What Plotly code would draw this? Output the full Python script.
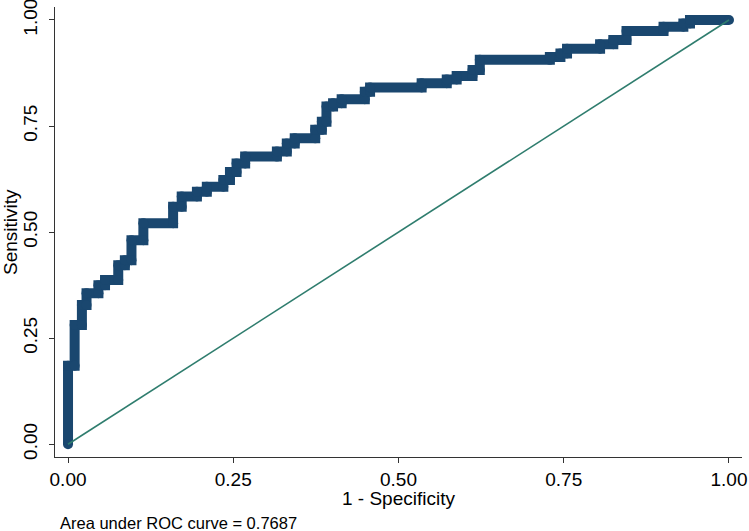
import plotly.graph_objects as go

# ROC step vertices
fpr = [0.000, 0.000, 0.010, 0.010, 0.021, 0.021, 0.028, 0.028, 0.046, 0.046,
       0.056, 0.056, 0.076, 0.076, 0.086, 0.086, 0.096, 0.096, 0.114, 0.114,
       0.159, 0.159, 0.172, 0.172, 0.195, 0.195, 0.210, 0.210, 0.235, 0.235,
       0.245, 0.245, 0.255, 0.255, 0.268, 0.268, 0.316, 0.316, 0.331, 0.331,
       0.343, 0.343, 0.374, 0.374, 0.384, 0.384, 0.391, 0.391, 0.401, 0.401,
       0.414, 0.414, 0.449, 0.449, 0.457, 0.457, 0.535, 0.535, 0.573, 0.573,
       0.588, 0.588, 0.612, 0.612, 0.623, 0.623, 0.729, 0.729, 0.745, 0.745,
       0.755, 0.755, 0.805, 0.805, 0.825, 0.825, 0.845, 0.845, 0.901, 0.901,
       0.931, 0.931, 0.941, 0.941, 1.000]
tpr = [0.000, 0.185, 0.185, 0.281, 0.281, 0.328, 0.328, 0.356, 0.356, 0.375,
       0.375, 0.387, 0.387, 0.422, 0.422, 0.434, 0.434, 0.481, 0.481, 0.521,
       0.521, 0.560, 0.560, 0.584, 0.584, 0.595, 0.595, 0.607, 0.607, 0.623,
       0.623, 0.642, 0.642, 0.662, 0.662, 0.678, 0.678, 0.690, 0.690, 0.709,
       0.709, 0.721, 0.721, 0.741, 0.741, 0.760, 0.760, 0.796, 0.796, 0.804,
       0.804, 0.813, 0.813, 0.831, 0.831, 0.841, 0.841, 0.851, 0.851, 0.860,
       0.860, 0.868, 0.868, 0.882, 0.882, 0.906, 0.906, 0.913, 0.913, 0.921,
       0.921, 0.932, 0.932, 0.943, 0.943, 0.953, 0.953, 0.974, 0.974, 0.984,
       0.984, 0.992, 0.992, 1.000, 1.000]

ref_x = [0, 1]
ref_y = [0, 1]

tick_vals = [0, 0.25, 0.5, 0.75, 1.0]
tick_text = ["0.00", "0.25", "0.50", "0.75", "1.00"]

x_title = "1 - Specificity"
y_title = "Sensitivity"
auc_note = "Area under ROC curve = 0.7687"

NAVY = "#1a476f"
FONT = "Liberation Sans, Arial, sans-serif"

# plot-area geometry (pixels)
L, R, T, B = 55, 7, 7, 74
W, H = 749, 531
PW, PH = W - L - R, H - T - B


def px_x(px):
    return (px - L) / PW


def px_y(py):
    return (H - B - py) / PH


fig = go.Figure()
fig.add_trace(go.Scatter(
    x=fpr, y=tpr, mode="lines+markers",
    line=dict(color=NAVY, width=10, shape="linear"),
    marker=dict(color=NAVY, size=10, line=dict(width=0)),
    hoverinfo="x+y", showlegend=False,
))
fig.add_trace(go.Scatter(
    x=ref_x, y=ref_y, mode="lines",
    line=dict(color="#2f7d6e", width=1.6),
    showlegend=False,
))

fig.update_layout(
    width=W, height=H,
    margin=dict(l=L, r=R, t=T, b=B, autoexpand=False),
    paper_bgcolor="white", plot_bgcolor="white",
    font=dict(family=FONT, color="black", size=19),
    xaxis=dict(
        range=[-0.0197, 1.0197], tickvals=tick_vals, ticktext=tick_text,
        showgrid=False, zeroline=False, showline=True, linecolor="#333333",
        linewidth=1.2, ticks="outside", ticklen=5, tickcolor="#333333",
        tickfont=dict(size=19), automargin=False, ticklabeloverflow="allow",
    ),
    yaxis=dict(
        range=[-0.030, 1.0306], tickvals=tick_vals, ticktext=tick_text,
        showgrid=False, zeroline=False, showline=True, linecolor="#333333",
        linewidth=1.2, ticks="outside", ticklen=5, tickcolor="#333333",
        tickfont=dict(size=19), tickangle=-90, automargin=False,
        ticklabeloverflow="allow", ticklabelstandoff=4,
    ),
    annotations=[
        dict(text=x_title, xref="paper", yref="paper",
             x=px_x(398), y=px_y(499), xanchor="center", yanchor="middle",
             showarrow=False, font=dict(size=19, family=FONT, color="black")),
        dict(text=y_title, xref="paper", yref="paper", textangle=-90,
             x=px_x(10), y=px_y(232), xanchor="center", yanchor="middle",
             showarrow=False, font=dict(size=19, family=FONT, color="black")),
        dict(text=auc_note, xref="paper", yref="paper",
             x=px_x(58), y=px_y(523), xanchor="left", yanchor="middle",
             showarrow=False, font=dict(size=16.5, family=FONT, color="black")),
    ],
)

fig.write_html("out.html", config={"displayModeBar": False},
               post_script="document.body.style.margin='0px';")
